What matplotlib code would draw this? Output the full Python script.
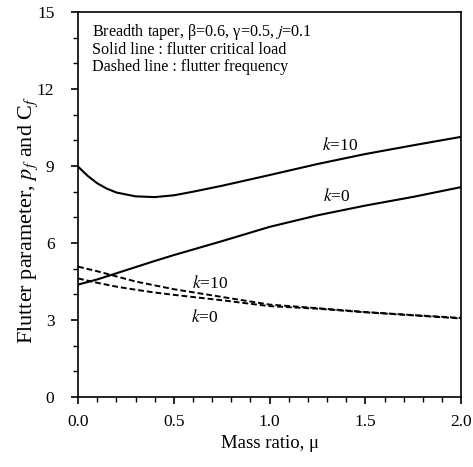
import matplotlib
matplotlib.use('Agg')
import matplotlib.pyplot as plt
from matplotlib.ticker import MultipleLocator, FormatStrFormatter

plt.rcParams['font.family'] = ['Liberation Serif', 'DejaVu Serif']
plt.rcParams['mathtext.fontset'] = 'stix'

# valeurs
mu_k10 = [0.0, 0.05, 0.1, 0.15, 0.2, 0.3, 0.4, 0.5, 0.6, 0.75, 1.0, 1.25, 1.5, 1.75, 2.0]
pf_k10 = [8.98, 8.62, 8.33, 8.12, 7.97, 7.82, 7.79, 7.86, 8.0, 8.23, 8.65, 9.08, 9.47, 9.81, 10.14]

mu = [0.0, 0.1, 0.2, 0.3, 0.4, 0.5, 0.75, 1.0, 1.25, 1.5, 1.75, 2.0]
pf_k0 = [4.38, 4.58, 4.82, 5.06, 5.3, 5.53, 6.07, 6.63, 7.08, 7.46, 7.8, 8.18]
cf_k10 = [5.08, 4.9, 4.7, 4.5, 4.35, 4.2, 3.9, 3.6, 3.46, 3.31, 3.19, 3.08]
cf_k0 = [4.62, 4.45, 4.3, 4.18, 4.07, 3.98, 3.77, 3.54, 3.44, 3.3, 3.18, 3.06]

fig = plt.figure(figsize=(4.73, 4.67), dpi=100)
ax = fig.add_axes([0.165, 0.15, 0.81, 0.824])

ax.plot(mu_k10, pf_k10, color='black', lw=1.5)
ax.plot(mu, pf_k0, color='black', lw=1.5)
ax.plot(mu, cf_k10, color='black', lw=1.4, ls='--', dashes=(3, 1.5))
ax.plot(mu, cf_k0, color='black', lw=1.4, ls='--', dashes=(3, 1.5))

ax.text(1.37, 9.82, r'$k$=10', fontsize=12.5, ha='center', va='center')
ax.text(1.35, 7.8, r'$k$=0', fontsize=12.5, ha='center', va='center')
ax.text(0.69, 4.44, r'$k$=10', fontsize=12.5, ha='center', va='center')
ax.text(0.66, 3.08, r'$k$=0', fontsize=12.5, ha='center', va='center')

ax.text(0.037, 0.975, 'Breadth taper, β=0.6, γ=0.5, $j$=0.1\n'
        'Solid line : flutter critical load\n'
        'Dashed line : flutter frequency',
        transform=ax.transAxes, fontsize=11.6, va='top', ha='left', linespacing=1.05)

ax.set_xlim(0, 2.0)
ax.set_ylim(0, 15)
ax.xaxis.set_major_locator(MultipleLocator(0.5))
ax.xaxis.set_minor_locator(MultipleLocator(0.1))
ax.yaxis.set_major_locator(MultipleLocator(3))
ax.yaxis.set_minor_locator(MultipleLocator(1))
ax.xaxis.set_major_formatter(FormatStrFormatter('%.1f'))
ax.tick_params(which='major', direction='out', length=5, width=1.2, labelsize=12.5)
ax.tick_params(which='minor', direction='out', length=3.5, width=1.0)
ax.tick_params(axis='x', which='major', pad=7)
ax.tick_params(axis='y', which='major', pad=12)
for s in ax.spines.values():
    s.set_linewidth(1.2)

ax.set_xlabel('Mass ratio, μ', fontsize=13.5, labelpad=4)
ax.set_ylabel(r'Flutter parameter, $p_f$ and C$_f$', fontsize=16)
ax.yaxis.set_label_coords(-0.1, 0.46)

fig.savefig('out.png', dpi=100)
